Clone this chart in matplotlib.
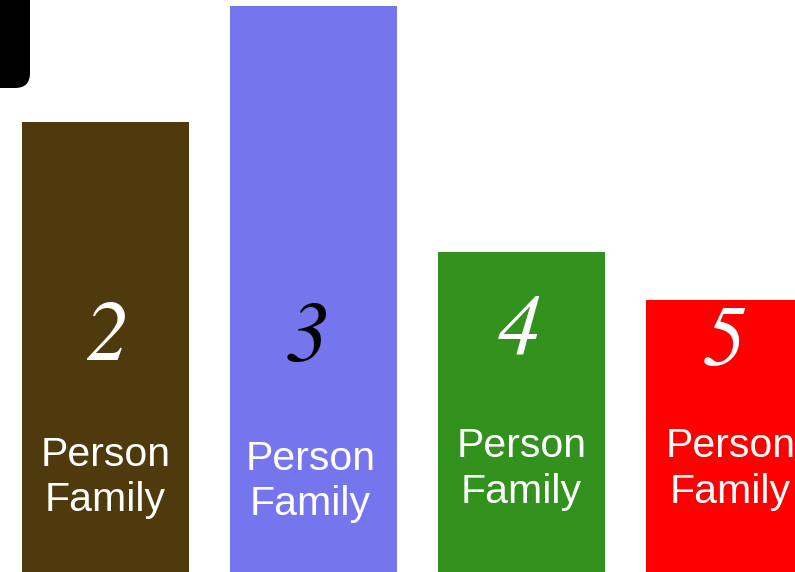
import matplotlib
matplotlib.use("Agg")
import matplotlib.pyplot as plt
from matplotlib.patches import FancyBboxPatch

# Household-size bars
categories = ["2", "3", "4", "5"]
values = [33.6, 39.9, 26.5, 23.9]
caption = "Person\nFamily"

bar_colors = ["#4f3a0e", "#7575ee", "#33911e", "#ff0000"]
number_colors = ["white", "black", "white", "white"]

# per-bar label placement (axes-fraction heights, x offsets in data units)
number_y = [0.407, 0.404, 0.418, 0.396]
number_dx = [0.01, -0.03, -0.01, -0.025]
caption_y = [0.165, 0.158, 0.180, 0.180]
caption_dx = [0.0, -0.015, 0.0, 0.005]

fig = plt.figure(figsize=(7.95, 5.72), dpi=100)
ax = fig.add_axes([0, 0, 1, 1])
ax.set_axis_off()

x = list(range(len(categories)))
ax.bar(x, values, width=0.8, color=bar_colors, edgecolor="none")
ax.set_xlim(-0.507, 3.315)
ax.set_ylim(9.13, 40.22)

for i, cat in enumerate(categories):
    ax.text(x[i] + number_dx[i], number_y[i], cat,
            transform=ax.get_xaxis_transform(), ha="center", va="center",
            fontsize=62, color=number_colors[i], family="STIXGeneral",
            style="italic")
    ax.text(x[i] + caption_dx[i], caption_y[i], caption,
            transform=ax.get_xaxis_transform(), ha="center", va="center",
            fontsize=29.5, color="white", family="Liberation Sans",
            linespacing=1.25)

# dark rounded tab in the upper-left corner
fig.patches.append(FancyBboxPatch((-0.3, 4.84), 0.6, 1.2,
                                  boxstyle="round,pad=0,rounding_size=0.15",
                                  transform=fig.dpi_scale_trans,
                                  facecolor="black", edgecolor="none"))

fig.savefig("out.png", dpi=100)
